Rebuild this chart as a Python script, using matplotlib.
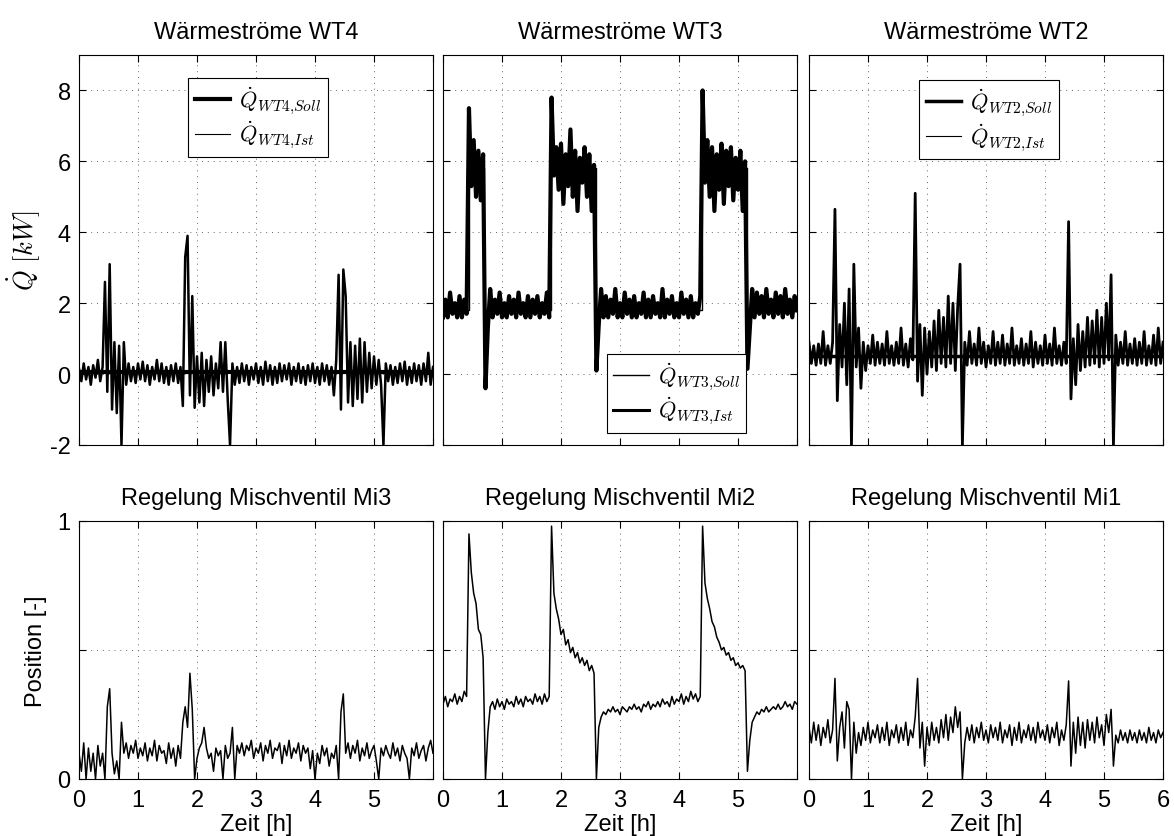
import numpy as np
import matplotlib
matplotlib.use("Agg")
import matplotlib.pyplot as plt

plt.rcParams["font.family"] = ["Liberation Sans", "DejaVu Sans"]
plt.rcParams["mathtext.fontset"] = "cm"
plt.rcParams["axes.unicode_minus"] = False

# Time axis: samples every 0.04 h over 6 h
zeit = np.round(np.arange(151) * 0.04, 2)

# Heat flow set points (step profiles) [kW]
wt4_soll_t = [0.0, 6.0]
wt4_soll = [0.05, 0.05]
wt3_soll_t = [0.0, 0.44, 0.70, 1.83, 2.59, 4.39, 5.15, 6.0]
wt3_soll = [1.8, 5.8, 1.8, 5.8, 1.8, 5.8, 1.8, 1.8]
wt2_soll_t = [0.0, 6.0]
wt2_soll = [0.5, 0.5]

# Measured heat flows [kW]
wt4_ist = [
    0.15, -0.2, 0.3, -0.15, 0.2, -0.3, 0.25, -0.1, 0.4, -0.2,
    0.2, 2.6, -0.5, 3.1, -1.0, 0.9, -1.1, 0.8, -2.0, 0.9,
    -0.3, 0.3, -0.2, 0.2, -0.25, 0.3, -0.15, 0.35, -0.2, 0.25,
    -0.3, 0.2, -0.15, 0.4, -0.2, 0.3, -0.25, 0.2, -0.3, 0.25,
    -0.2, 0.3, -0.25, 0.2, -0.9, 3.3, 3.9, -0.6, 2.2, -0.95,
    0.5, -0.8, 0.6, -0.9, 0.4, -0.5, 0.5, -0.6, 0.3, -0.4,
    0.9, -0.5, 0.9, -0.7, -2.0, 0.3, -0.3, 0.2, -0.25, 0.3,
    -0.2, 0.25, -0.3, 0.2, -0.15, 0.3, -0.25, 0.2, -0.3, 0.35,
    -0.2, 0.25, -0.3, 0.2, -0.25, 0.3, -0.2, 0.25, -0.15, 0.3,
    -0.3, 0.2, -0.2, 0.3, -0.25, 0.2, -0.3, 0.25, -0.2, 0.3,
    -0.25, 0.2, -0.3, 0.3, -0.2, 0.25, -0.3, 0.2, -0.6, 0.4,
    2.8, -1.0, 2.95, 2.2, -0.8, 0.9, -0.9, 0.8, -0.7, 1.0,
    -0.8, 0.9, -0.5, 0.6, -0.4, 0.5, -0.3, 0.4, -0.3, -2.0,
    0.3, -0.2, 0.25, -0.3, 0.2, -0.25, 0.3, -0.2, 0.35, -0.3,
    0.2, -0.25, 0.3, -0.2, 0.25, -0.3, 0.3, -0.2, 0.6, -0.3,
    0.2,
]
wt3_ist = [
    1.6, 2.1, 1.6, 2.3, 1.7, 2.0, 1.6, 2.2, 1.6, 2.1,
    1.7, 7.5, 5.3, 6.6, 5.0, 6.3, 4.9, 6.2, -0.4, 1.3,
    2.4, 1.6, 2.1, 1.7, 2.3, 1.6, 2.0, 1.6, 2.2, 1.7,
    2.1, 1.6, 2.3, 1.7, 2.0, 1.6, 2.2, 1.6, 2.1, 1.7,
    2.2, 1.6, 2.0, 1.7, 2.3, 1.6, 7.8, 5.6, 6.4, 5.2,
    6.5, 4.8, 6.2, 5.3, 6.9, 5.0, 6.3, 4.6, 6.1, 5.4,
    6.4, 5.0, 6.2, 4.6, 5.9, 0.1, 1.4, 2.4, 1.6, 2.2,
    1.6, 2.1, 1.7, 2.4, 1.6, 2.0, 1.6, 2.3, 1.7, 2.1,
    1.6, 2.2, 1.6, 2.0, 1.7, 2.3, 1.6, 2.1, 1.6, 2.2,
    1.7, 2.0, 1.6, 2.4, 1.6, 2.1, 1.7, 2.2, 1.6, 2.0,
    1.6, 2.3, 1.7, 2.1, 1.6, 2.2, 1.6, 2.0, 1.7, 2.2,
    8.0, 5.4, 6.6, 5.0, 6.4, 4.6, 6.2, 5.2, 6.5, 4.8,
    6.3, 5.3, 6.4, 4.9, 6.1, 5.2, 6.3, 4.6, 6.0, 0.15,
    1.3, 2.4, 1.6, 2.3, 1.7, 2.2, 1.6, 2.4, 1.7, 2.1,
    1.6, 2.3, 1.7, 2.2, 1.6, 2.4, 1.7, 2.1, 1.6, 2.2,
    1.8,
]
wt2_ist = [
    0.9, 0.3, 0.8, 0.25, 0.85, 0.3, 1.2, 0.25, 0.8, 0.3,
    0.9, 4.65, -0.75, 1.4, 0.2, 2.0, -0.3, 2.4, -2.0, 3.1,
    0.2, 1.3, -0.4, 0.9, 0.1, 0.8, 0.3, 1.1, 0.25, 0.9,
    0.3, 0.85, 0.25, 1.2, 0.3, 0.8, 0.25, 0.9, 0.3, 1.3,
    0.25, 0.85, 0.2, 1.0, 0.4, 5.1, -0.2, 1.4, -0.6, 1.3,
    0.0, 1.2, 0.2, 1.5, 0.1, 1.8, 0.3, 1.6, 0.2, 2.2,
    0.3, 2.0, 0.1, 1.9, 3.1, -2.0, 0.9, 0.25, 1.2, 0.3,
    0.85, 0.25, 1.3, 0.3, 0.9, 0.2, 0.8, 0.3, 1.2, 0.25,
    0.9, 0.3, 1.1, 0.25, 0.85, 0.3, 1.3, 0.25, 0.8, 0.3,
    1.0, 0.25, 0.85, 0.3, 1.2, 0.2, 0.9, 0.3, 0.8, 0.25,
    1.1, 0.3, 0.85, 0.25, 1.3, 0.3, 0.8, 0.25, 0.9, 0.3,
    4.3, -0.7, 1.0, -0.3, 1.4, 0.1, 1.2, 0.2, 1.6, 0.25,
    1.5, 0.3, 1.8, 0.2, 1.6, 0.3, 2.0, 0.4, 2.8, -2.0,
    1.1, 0.25, 0.9, 0.3, 1.2, 0.25, 0.85, 0.3, 1.0, 0.25,
    0.9, 0.3, 1.2, 0.25, 0.8, 0.3, 1.1, 0.25, 1.3, 0.3,
    0.9,
]

# Mixing valve positions [-]
mi3_pos = [
    0.1, 0.03, 0.14, 0.0, 0.12, 0.03, 0.1, 0.0, 0.13, 0.05,
    0.1, 0.0, 0.28, 0.35, 0.1, 0.02, 0.07, 0.0, 0.22, 0.1,
    0.14, 0.08, 0.13, 0.1, 0.15, 0.08, 0.12, 0.09, 0.14, 0.07,
    0.12, 0.09, 0.15, 0.07, 0.13, 0.1, 0.11, 0.06, 0.14, 0.08,
    0.12, 0.05, 0.13, 0.08, 0.22, 0.28, 0.2, 0.41, 0.27, 0.0,
    0.08, 0.12, 0.14, 0.2, 0.12, 0.08, 0.1, 0.03, 0.12, 0.09,
    0.11, 0.0, 0.13, 0.08, 0.1, 0.2, 0.0, 0.13, 0.1, 0.14,
    0.09, 0.13, 0.11, 0.15, 0.08, 0.12, 0.1, 0.14, 0.07, 0.13,
    0.1, 0.15, 0.08, 0.12, 0.11, 0.14, 0.06, 0.13, 0.09, 0.15,
    0.08, 0.12, 0.1, 0.14, 0.07, 0.13, 0.1, 0.12, 0.04, 0.11,
    0.0, 0.1, 0.06, 0.13, 0.09, 0.12, 0.05, 0.1, 0.08, 0.13,
    0.0, 0.26, 0.33, 0.1, 0.14, 0.08, 0.13, 0.1, 0.15, 0.07,
    0.12, 0.09, 0.14, 0.08, 0.11, 0.13, 0.07, 0.0, 0.12, 0.09,
    0.13, 0.1, 0.08, 0.14, 0.09, 0.12, 0.07, 0.13, 0.1, 0.08,
    0.0, 0.12, 0.09, 0.14, 0.08, 0.11, 0.13, 0.07, 0.12, 0.15,
    0.1,
]
mi2_pos = [
    0.29, 0.32, 0.28, 0.31, 0.30, 0.33, 0.29, 0.32, 0.30, 0.34,
    0.32, 0.95, 0.80, 0.72, 0.68, 0.58, 0.56, 0.47, 0.0, 0.18,
    0.28, 0.30, 0.27, 0.31, 0.28, 0.30, 0.27, 0.31, 0.29, 0.30,
    0.28, 0.32, 0.29, 0.31, 0.28, 0.32, 0.30, 0.31, 0.29, 0.33,
    0.30, 0.32, 0.29, 0.33, 0.30, 0.32, 0.98, 0.72, 0.66, 0.62,
    0.56, 0.58, 0.52, 0.54, 0.49, 0.51, 0.47, 0.49, 0.45, 0.47,
    0.44, 0.46, 0.42, 0.44, 0.41, 0.0, 0.2, 0.24, 0.26, 0.25,
    0.27, 0.26, 0.28, 0.26, 0.27, 0.25, 0.28, 0.27, 0.26, 0.28,
    0.27, 0.29, 0.27, 0.28, 0.26, 0.29, 0.28, 0.30, 0.27, 0.29,
    0.28, 0.30, 0.28, 0.31, 0.29, 0.30, 0.28, 0.32, 0.29, 0.31,
    0.30, 0.33, 0.29, 0.32, 0.30, 0.34, 0.31, 0.33, 0.30, 0.32,
    0.98, 0.76, 0.70, 0.66, 0.61, 0.59, 0.55, 0.53, 0.50, 0.51,
    0.48, 0.49, 0.46, 0.47, 0.44, 0.45, 0.43, 0.44, 0.42, 0.03,
    0.15, 0.22, 0.24, 0.26, 0.25, 0.27, 0.26, 0.28, 0.26, 0.27,
    0.28, 0.27, 0.29, 0.27, 0.28, 0.30, 0.28, 0.29, 0.27, 0.30,
    0.29,
]
mi1_pos = [
    0.2, 0.14, 0.22, 0.15, 0.21, 0.13, 0.2, 0.16, 0.23, 0.14,
    0.19, 0.39, 0.07, 0.2, 0.26, 0.12, 0.3, 0.27, 0.0, 0.22,
    0.1, 0.18, 0.13, 0.2, 0.15, 0.22, 0.14, 0.19, 0.16, 0.21,
    0.14, 0.2, 0.15, 0.22, 0.13, 0.19, 0.16, 0.21, 0.14, 0.2,
    0.15, 0.22, 0.13, 0.19, 0.16, 0.24, 0.39, 0.12, 0.22, 0.05,
    0.2, 0.13, 0.22, 0.15, 0.2, 0.14, 0.23, 0.16, 0.25, 0.15,
    0.24, 0.18, 0.28, 0.2, 0.26, 0.0, 0.14, 0.2, 0.15, 0.21,
    0.14, 0.2, 0.16, 0.22, 0.15, 0.19, 0.14, 0.21, 0.16, 0.2,
    0.15, 0.22, 0.14, 0.19, 0.16, 0.21, 0.13, 0.2, 0.15, 0.22,
    0.14, 0.19, 0.16, 0.21, 0.15, 0.2, 0.14, 0.22, 0.16, 0.19,
    0.15, 0.21, 0.14, 0.2, 0.16, 0.22, 0.13, 0.19, 0.15, 0.21,
    0.38, 0.05, 0.22, 0.1, 0.24, 0.13, 0.22, 0.12, 0.23, 0.15,
    0.22, 0.14, 0.24, 0.16, 0.21, 0.13, 0.25, 0.18, 0.27, 0.05,
    0.17, 0.14, 0.19, 0.15, 0.18, 0.14, 0.19, 0.15, 0.18, 0.14,
    0.19, 0.15, 0.18, 0.14, 0.2, 0.15, 0.18, 0.14, 0.19, 0.16,
    0.18,
]

titel_oben = ["Wärmeströme WT4", "Wärmeströme WT3", "Wärmeströme WT2"]
titel_unten = ["Regelung Mischventil Mi3", "Regelung Mischventil Mi2",
               "Regelung Mischventil Mi1"]
x_ticks = [0, 1, 2, 3, 4, 5, 6]
q_ticks = [-2, 0, 2, 4, 6, 8]
pos_ticks = [0, 0.5, 1]
pos_ticklabels = ["0", "", "1"]

FS = 17
fig = plt.figure(figsize=(11.74, 8.37), dpi=100)
lefts = [79 / 1174, 443 / 1174, 809 / 1174]
width = 354 / 1174
top_ax = [fig.add_axes([l, 1 - 446 / 837, width, 390 / 837]) for l in lefts]
bot_ax = [fig.add_axes([l, 1 - 780 / 837, width, 258 / 837]) for l in lefts]

grid_kw = dict(color="0.4", linewidth=0.7, linestyle=(0, (1, 5)))


def style(ax, yticks, show_y, show_x, xlabels):
    ax.set_xlim(0, 6)
    ax.set_xticks(x_ticks)
    ax.set_yticks(yticks)
    ax.grid(True, **grid_kw)
    ax.tick_params(direction="in", top=True, right=True, length=5,
                   width=0.8, labelsize=FS, pad=6)
    ax.tick_params(axis="x", pad=7)
    if show_x:
        ax.set_xticklabels(xlabels)
        ax.set_xlabel("Zeit [h]", fontsize=FS, va="top")
        ax.xaxis.set_label_coords(0.5, -0.13)
    else:
        ax.set_xticklabels([])
    if not show_y:
        ax.set_yticklabels([])
    for s in ax.spines.values():
        s.set_linewidth(0.8)


leg_kw = dict(fontsize=16, frameon=True, fancybox=False, framealpha=1,
              edgecolor="black", borderpad=0.3, labelspacing=0.15,
              handlelength=1.6, handletextpad=0.4, borderaxespad=0)

# Top row: heat flows
ax = top_ax[0]
l_ist, = ax.plot(zeit, wt4_ist, color="black", lw=1.8)
l_soll, = ax.plot(wt4_soll_t, wt4_soll, color="black", lw=3.0)
leg = ax.legend([l_soll, l_ist], [r"$\dot{Q}_{WT4{,}Soll}$", r"$\dot{Q}_{WT4{,}Ist}$"],
                loc="upper left", bbox_to_anchor=(0.308, 0.942), **leg_kw)
leg.get_frame().set_linewidth(0.8)
leg.get_lines()[1].set_linewidth(0.8)

ax = top_ax[1]
l_soll, = ax.plot(wt3_soll_t, wt3_soll, color="black", lw=1.0, drawstyle="steps-post")
l_ist, = ax.plot(zeit, wt3_ist, color="black", lw=3.0)
leg = ax.legend([l_soll, l_ist], [r"$\dot{Q}_{WT3{,}Soll}$", r"$\dot{Q}_{WT3{,}Ist}$"],
                loc="lower left", bbox_to_anchor=(0.462, 0.031), **leg_kw)
leg.get_frame().set_linewidth(0.8)
leg.get_lines()[1].set_linewidth(2.2)

ax = top_ax[2]
l_ist, = ax.plot(zeit, wt2_ist, color="black", lw=2.0)
l_soll, = ax.plot(wt2_soll_t, wt2_soll, color="black", lw=2.5)
leg = ax.legend([l_soll, l_ist], [r"$\dot{Q}_{WT2{,}Soll}$", r"$\dot{Q}_{WT2{,}Ist}$"],
                loc="upper left", bbox_to_anchor=(0.311, 0.936), **leg_kw)
leg.get_frame().set_linewidth(0.8)
leg.get_lines()[1].set_linewidth(0.8)

for i, ax in enumerate(top_ax):
    ax.set_ylim(-2, 9)
    style(ax, q_ticks, i == 0, False, None)
    ax.set_title(titel_oben[i], fontsize=FS, pad=12)
top_ax[0].set_ylabel(r"$\dot{Q}\ [kW]$", fontsize=19)
top_ax[0].yaxis.set_label_coords(-0.105, 0.5)

# Bottom row: valve positions
for ax, pos in zip(bot_ax, [mi3_pos, mi2_pos, mi1_pos]):
    ax.plot(zeit, pos, color="black", lw=1.1)

for i, ax in enumerate(bot_ax):
    ax.set_ylim(0, 1)
    labels = ["0", "1", "2", "3", "4", "5", "6"] if i == 2 else ["0", "1", "2", "3", "4", "5", ""]
    style(ax, pos_ticks, i == 0, True, labels)
    if i == 0:
        ax.set_yticklabels(pos_ticklabels)
    ax.set_title(titel_unten[i], fontsize=FS, pad=12)
bot_ax[0].set_ylabel("Position [-]", fontsize=FS)
bot_ax[0].yaxis.set_label_coords(-0.09, 0.5)

fig.savefig("out.png", dpi=100)
